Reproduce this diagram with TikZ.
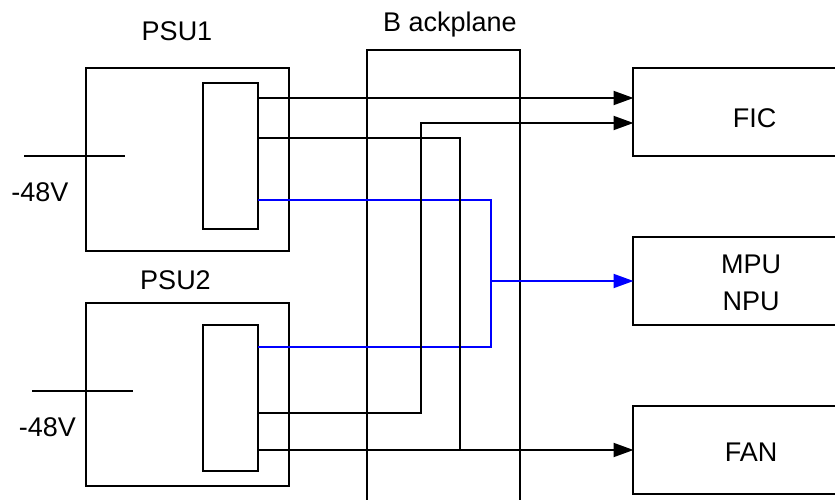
\documentclass[tikz,border=0pt]{standalone}
\usepackage{xcolor}
\usepackage{fontspec}
\setmainfont{Liberation Sans}
\usetikzlibrary{arrows.meta}
\definecolor{railblue}{HTML}{0000FF}
\tikzset{
    psubox/.style={draw, line width=2pt, inner sep=0pt, minimum width=#1},
    tag/.style={font=\fontsize{27}{27}\selectfont, inner sep=0pt},
    rail/.style={line width=2pt, line join=miter},
    railarrow/.style={rail, -{Triangle[length=20pt, width=14pt]}, shorten >=-0.5pt}
}

\begin{document}
\begin{tikzpicture}[x=1pt, y=-1pt]
    \useasboundingbox (0,0) rectangle (835,500);
    \clip (0,0) rectangle (835,500);
    % Power supplies with their inner converter boxes
    \node[psubox=203pt, minimum height=183pt] (psuone) at (187.5,159.5) {};
    \node[psubox=55pt, minimum height=146pt] (convone) at (230.5,156) {};
    \node[psubox=203pt, minimum height=183pt] (psutwo) at (187.5,394.5) {};
    \node[psubox=55pt, minimum height=146pt] (convtwo) at (230.5,398) {};
    % Backplane runs off the bottom edge
    \node[psubox=153pt, minimum height=460pt] (backplane) at (443.5,280) {};
    % Loads run off the right edge
    \node[psubox=210pt, minimum height=88pt] (fic) at (738,112) {};
    \node[psubox=210pt, minimum height=88pt] (mpu) at (738,281) {};
    \node[psubox=210pt, minimum height=88pt] (fan) at (738,449.5) {};
    % Labels
    \node[tag] (psuonetag) at (177,31) {PSU1};
    \node[tag] (psutwotag) at (175.5,280) {PSU2};
    \node[tag] (backplanetag) at (450,25) {B ackplane};
    \node[tag] (voltone) at (40,192) {-48V};
    \node[tag] (volttwo) at (47.5,427) {-48V};
    \node[tag] (fictag) at (754.5,118) {FIC};
    \node[tag] (mputag) at (751,264) {MPU};
    \node[tag] (nputag) at (751,301) {NPU};
    \node[tag] (fantag) at (751,452) {FAN};
    % Connection points
    \coordinate (inone) at (24,156);
    \coordinate (inoneend) at (125,156);
    \coordinate (intwo) at (32,391);
    \coordinate (intwoend) at (133,391);
    \coordinate (onea) at (258,98);
    \coordinate (oneb) at (258,138);
    \coordinate (onec) at (258,200);
    \coordinate (twoa) at (258,347);
    \coordinate (twob) at (258,413);
    \coordinate (twoc) at (258,450);
    \coordinate (ficup) at (633,98);
    \coordinate (ficlow) at (633,123);
    \coordinate (mpuin) at (633,281);
    \coordinate (fanin) at (633,450);
    \coordinate (bluejoin) at (491,281);
    \coordinate (fanjoin) at (460,450);
    % Input feeds
    \draw[rail] (inone) -- (inoneend);
    \draw[rail] (intwo) -- (intwoend);
    % Blue rail to MPU and NPU
    \draw[rail, railblue] (onec) -| (bluejoin);
    \draw[rail, railblue] (twoa) -| (bluejoin);
    \draw[railarrow, railblue] (bluejoin) -- (mpuin);
    % Black rails to FIC and FAN
    \draw[railarrow] (onea) -- (ficup);
    \draw[railarrow] (twob) -| (421,123) -- (ficlow);
    \draw[rail] (oneb) -| (fanjoin);
    \draw[railarrow] (twoc) -- (fanin);
\end{tikzpicture}
\end{document}
